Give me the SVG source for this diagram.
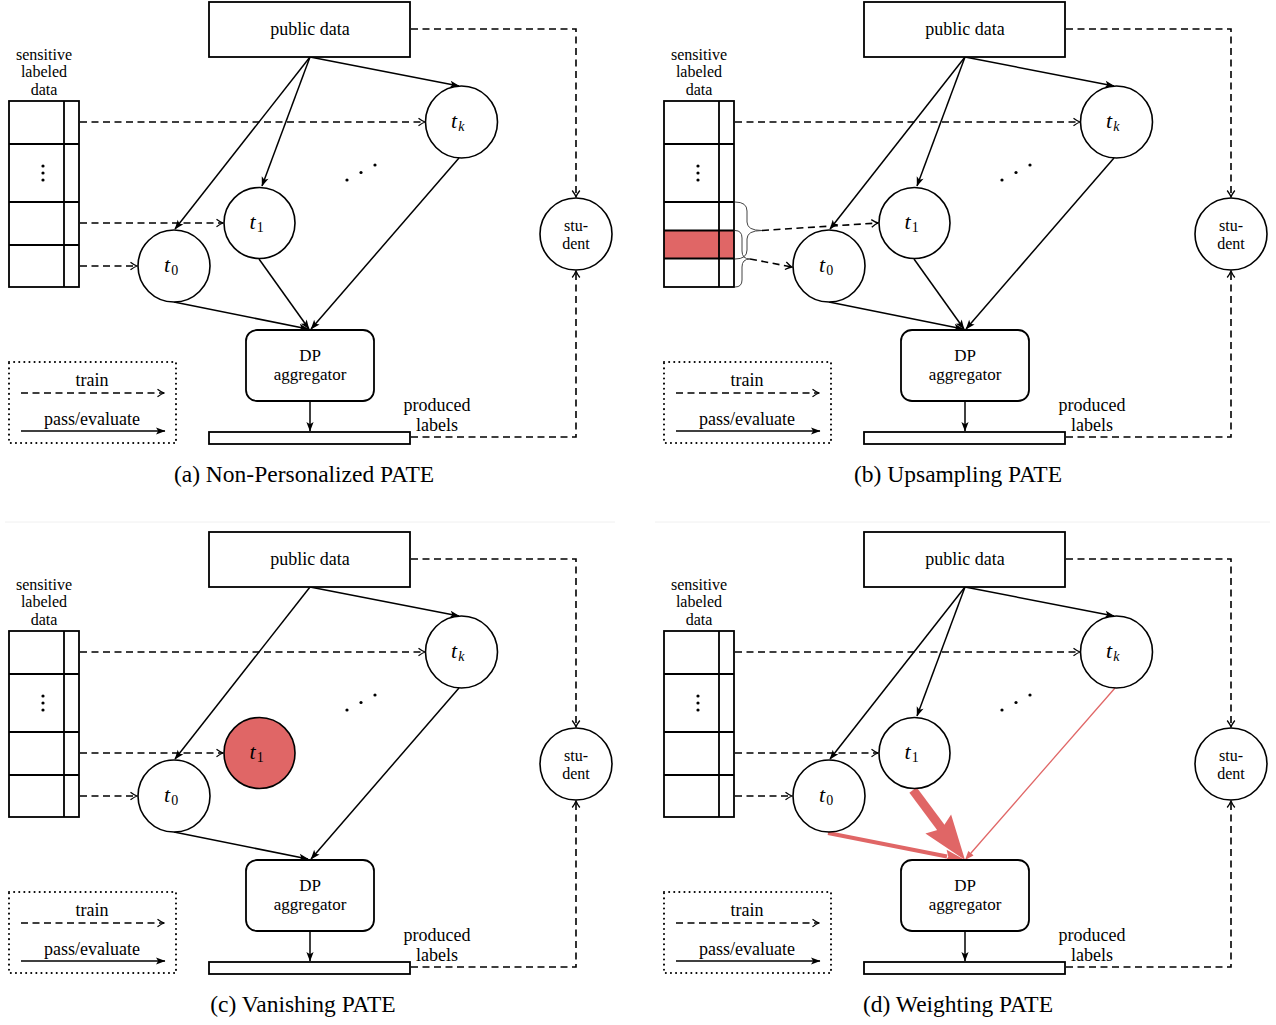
<svg xmlns="http://www.w3.org/2000/svg" width="1276" height="1025" viewBox="0 0 1276 1025">
<style>
text{font-family:"Liberation Serif","Times New Roman",serif;fill:#000}
.lbl{font-size:18px;text-anchor:middle}
.s17{font-size:16px}
.dp{font-size:17px;text-anchor:middle}
.math{font-size:22px;font-style:italic}
.sub{font-size:14px}
.subu{font-size:14px;font-style:normal}
.cap{font-size:23.5px;text-anchor:middle}
.box{fill:#fff;stroke:#000;stroke-width:1.8}
.node{fill:#fff;stroke:#000;stroke-width:1.6}
.red{fill:#e06666}
.grid{fill:none;stroke:#000;stroke-width:1.8}
.solid{fill:none;stroke:#000;stroke-width:1.5;marker-end:url(#ah)}
.dash{fill:none;stroke:#000;stroke-width:1.6;stroke-dasharray:7 4.5}
.darr{marker-end:url(#oh)}
.legend{fill:none;stroke:#000;stroke-width:2;stroke-dasharray:0.1 5;stroke-linecap:round}
.brace{fill:none;stroke:#444;stroke-width:1}
.rline{fill:none;stroke:#e06666}
.rhead{fill:#e06666}
</style>
<defs>
<marker id="ah" viewBox="-10 -5 11 10" refX="0" refY="0" markerWidth="11" markerHeight="10" markerUnits="userSpaceOnUse" orient="auto">
<path d="M0.5,0 L-9,-3.6 L-6.8,0 L-9,3.6 Z" fill="#000" stroke="none"/>
</marker>
<marker id="oh" viewBox="-8 -5 9 10" refX="0" refY="0" markerWidth="9" markerHeight="10" markerUnits="userSpaceOnUse" orient="auto">
<path d="M-6.5,-3.8 Q-2.5,-0.8 0,0 Q-2.5,0.8 -6.5,3.8" fill="none" stroke="#000" stroke-width="1.3" stroke-dasharray="none"/>
</marker>
</defs>
<rect width="1276" height="1025" fill="#fff"/>
<g id="separators">
<line x1="5" y1="522" x2="615" y2="522" stroke="#f0f0f0" stroke-width="1"/>
<line x1="655" y1="522" x2="1270" y2="522" stroke="#f0f0f0" stroke-width="1"/>
</g>

<!-- Panel A -->
<g id="panel-a">
<g id="a-connectors">
<path class="dash darr" d="M80,122 H425"/>
<path class="dash darr" d="M80,223 H223"/>
<path class="dash darr" d="M80,266 H137"/>
<path class="dash darr" d="M411,29 H576 V197"/>
<path class="dash darr" d="M411,437 H576 V271"/>
<path class="solid" d="M310,57 L175,229"/>
<path class="solid" d="M310,57 L262,186"/>
<path class="solid" d="M310,57 L459,86"/>
<path class="solid" d="M174,302 L308,329"/>
<path class="solid" d="M259,259 L309,329"/>
<path class="solid" d="M459,158 L311,329"/>
<path class="solid" d="M310,401 V431"/>
</g>
<g id="a-public-data"><rect class="box" x="209" y="2" width="201" height="55"/><text class="lbl" x="310" y="35">public data</text></g>
<g id="a-sensitive-data">
<text class="lbl s17" x="44" y="59.5">sensitive</text><text class="lbl s17" x="44" y="77.3">labeled</text><text class="lbl s17" x="44" y="95">data</text>
<rect class="box" x="9" y="101" width="70" height="186"/>
<path class="grid" d="M64,101V287M9,144H79M9,202H79M9,245H79"/>
<circle cx="43" cy="166" r="1.6"/><circle cx="43" cy="173" r="1.6"/><circle cx="43" cy="180" r="1.6"/>
</g>
<g id="a-t0"><circle class="node" cx="174" cy="266" r="36"/><text class="math" x="164" y="272">t<tspan class="subu" dx="1" dy="3">0</tspan></text></g>
<g id="a-t1"><circle class="node" cx="259.5" cy="223" r="35.5"/><text class="math" x="249.5" y="229">t<tspan class="subu" dx="1" dy="3">1</tspan></text></g>
<g id="a-tk"><circle class="node" cx="461.5" cy="122" r="36"/><text class="math" x="451" y="128">t<tspan class="sub" dx="1" dy="3">k</tspan></text></g>
<g id="a-dots"><circle cx="347" cy="180" r="1.6"/><circle cx="361" cy="172.5" r="1.6"/><circle cx="375" cy="165" r="1.6"/></g>
<g id="a-student"><circle class="node" cx="576" cy="234" r="36"/><text class="lbl s17" x="576" y="231">stu-</text><text class="lbl s17" x="576" y="249">dent</text></g>
<g id="a-dp-aggregator"><rect class="box" x="246" y="330" width="128" height="71" rx="11"/><text class="dp" x="310" y="360.5">DP</text><text class="dp" x="310" y="379.5">aggregator</text></g>
<g id="a-produced-labels"><rect class="box" x="209" y="432" width="201" height="12"/><text class="lbl" x="437" y="410.5">produced</text><text class="lbl" x="437" y="431">labels</text></g>
<g id="a-legend">
<rect class="legend" x="9" y="362" width="167" height="81"/>
<text class="lbl" x="92" y="386">train</text>
<path class="dash darr" d="M21,393 H164"/>
<text class="lbl" x="92" y="425">pass/evaluate</text>
<path class="solid" d="M21,431 H165"/>
</g>
<text id="a-caption" class="cap" x="304" y="482">(a) Non-Personalized PATE</text>
</g>

<!-- Panel B -->
<g id="panel-b" transform="translate(655,0)">
<g id="b-connectors">
<path class="dash darr" d="M80,122 H425"/>
<path class="dash darr" d="M107,230.5 L223,223"/>
<path class="dash darr" d="M95,259 L137,267"/>
<path class="dash darr" d="M411,29 H576 V197"/>
<path class="dash darr" d="M411,437 H576 V271"/>
<path class="solid" d="M310,57 L175,229"/>
<path class="solid" d="M310,57 L262,186"/>
<path class="solid" d="M310,57 L459,86"/>
<path class="solid" d="M174,302 L308,329"/>
<path class="solid" d="M259,259 L309,329"/>
<path class="solid" d="M459,158 L311,329"/>
<path class="solid" d="M310,401 V431"/>
<path class="brace" d="M80,202 Q92,202 92,211 L92,222 Q92,230.5 107,230.5 Q92,230.5 92,239 L92,250 Q92,259 80,259"/>
<path class="brace" d="M80,230.5 Q87,230.5 87,238 L87,251 Q87,259 95,259 Q87,259 87,267 L87,280 Q87,287 80,287"/>
</g>
<g id="b-public-data"><rect class="box" x="209" y="2" width="201" height="55"/><text class="lbl" x="310" y="35">public data</text></g>
<g id="b-sensitive-data">
<text class="lbl s17" x="44" y="59.5">sensitive</text><text class="lbl s17" x="44" y="77.3">labeled</text><text class="lbl s17" x="44" y="95">data</text>
<rect class="red" x="9" y="230.5" width="70" height="28"/>
<rect class="grid" x="9" y="101" width="70" height="186"/>
<path class="grid" d="M64,101V287M9,144H79M9,202H79M9,230.5H79M9,258.5H79"/>
<circle cx="43" cy="166" r="1.6"/><circle cx="43" cy="173" r="1.6"/><circle cx="43" cy="180" r="1.6"/>
</g>
<g id="b-t0"><circle class="node" cx="174" cy="266" r="36"/><text class="math" x="164" y="272">t<tspan class="subu" dx="1" dy="3">0</tspan></text></g>
<g id="b-t1"><circle class="node" cx="259.5" cy="223" r="35.5"/><text class="math" x="249.5" y="229">t<tspan class="subu" dx="1" dy="3">1</tspan></text></g>
<g id="b-tk"><circle class="node" cx="461.5" cy="122" r="36"/><text class="math" x="451" y="128">t<tspan class="sub" dx="1" dy="3">k</tspan></text></g>
<g id="b-dots"><circle cx="347" cy="180" r="1.6"/><circle cx="361" cy="172.5" r="1.6"/><circle cx="375" cy="165" r="1.6"/></g>
<g id="b-student"><circle class="node" cx="576" cy="234" r="36"/><text class="lbl s17" x="576" y="231">stu-</text><text class="lbl s17" x="576" y="249">dent</text></g>
<g id="b-dp-aggregator"><rect class="box" x="246" y="330" width="128" height="71" rx="11"/><text class="dp" x="310" y="360.5">DP</text><text class="dp" x="310" y="379.5">aggregator</text></g>
<g id="b-produced-labels"><rect class="box" x="209" y="432" width="201" height="12"/><text class="lbl" x="437" y="410.5">produced</text><text class="lbl" x="437" y="431">labels</text></g>
<g id="b-legend">
<rect class="legend" x="9" y="362" width="167" height="81"/>
<text class="lbl" x="92" y="386">train</text>
<path class="dash darr" d="M21,393 H164"/>
<text class="lbl" x="92" y="425">pass/evaluate</text>
<path class="solid" d="M21,431 H165"/>
</g>
<text id="b-caption" class="cap" x="303" y="482">(b) Upsampling PATE</text>
</g>

<!-- Panel C -->
<g id="panel-c" transform="translate(0,530)">
<g id="c-connectors">
<path class="dash darr" d="M80,122 H425"/>
<path class="dash darr" d="M80,223 H223"/>
<path class="dash darr" d="M80,266 H137"/>
<path class="dash darr" d="M411,29 H576 V197"/>
<path class="dash darr" d="M411,437 H576 V271"/>
<path class="solid" d="M310,57 L175,229"/>
<path class="solid" d="M310,57 L459,86"/>
<path class="solid" d="M174,302 L308,329"/>
<path class="solid" d="M459,158 L311,329"/>
<path class="solid" d="M310,401 V431"/>
</g>
<g id="c-public-data"><rect class="box" x="209" y="2" width="201" height="55"/><text class="lbl" x="310" y="35">public data</text></g>
<g id="c-sensitive-data">
<text class="lbl s17" x="44" y="59.5">sensitive</text><text class="lbl s17" x="44" y="77.3">labeled</text><text class="lbl s17" x="44" y="95">data</text>
<rect class="box" x="9" y="101" width="70" height="186"/>
<path class="grid" d="M64,101V287M9,144H79M9,202H79M9,245H79"/>
<circle cx="43" cy="166" r="1.6"/><circle cx="43" cy="173" r="1.6"/><circle cx="43" cy="180" r="1.6"/>
</g>
<g id="c-t0"><circle class="node" cx="174" cy="266" r="36"/><text class="math" x="164" y="272">t<tspan class="subu" dx="1" dy="3">0</tspan></text></g>
<g id="c-t1"><circle class="node" cx="259.5" cy="223" r="35.5" style="fill:#e06666"/><text class="math" x="249.5" y="229">t<tspan class="subu" dx="1" dy="3">1</tspan></text></g>
<g id="c-tk"><circle class="node" cx="461.5" cy="122" r="36"/><text class="math" x="451" y="128">t<tspan class="sub" dx="1" dy="3">k</tspan></text></g>
<g id="c-dots"><circle cx="347" cy="180" r="1.6"/><circle cx="361" cy="172.5" r="1.6"/><circle cx="375" cy="165" r="1.6"/></g>
<g id="c-student"><circle class="node" cx="576" cy="234" r="36"/><text class="lbl s17" x="576" y="231">stu-</text><text class="lbl s17" x="576" y="249">dent</text></g>
<g id="c-dp-aggregator"><rect class="box" x="246" y="330" width="128" height="71" rx="11"/><text class="dp" x="310" y="360.5">DP</text><text class="dp" x="310" y="379.5">aggregator</text></g>
<g id="c-produced-labels"><rect class="box" x="209" y="432" width="201" height="12"/><text class="lbl" x="437" y="410.5">produced</text><text class="lbl" x="437" y="431">labels</text></g>
<g id="c-legend">
<rect class="legend" x="9" y="362" width="167" height="81"/>
<text class="lbl" x="92" y="386">train</text>
<path class="dash darr" d="M21,393 H164"/>
<text class="lbl" x="92" y="425">pass/evaluate</text>
<path class="solid" d="M21,431 H165"/>
</g>
<text id="c-caption" class="cap" x="303" y="482">(c) Vanishing PATE</text>
</g>

<!-- Panel D -->
<g id="panel-d" transform="translate(655,530)">
<g id="d-connectors">
<path class="dash darr" d="M80,122 H425"/>
<path class="dash darr" d="M80,223 H223"/>
<path class="dash darr" d="M80,266 H137"/>
<path class="dash darr" d="M411,29 H576 V197"/>
<path class="dash darr" d="M411,437 H576 V271"/>
<path class="solid" d="M310,57 L175,229"/>
<path class="solid" d="M310,57 L262,186"/>
<path class="solid" d="M310,57 L459,86"/>
<path class="solid" d="M310,401 V431"/>
<path class="rline" stroke-width="4" d="M173,303 L292,326.5"/>
<polygon class="rhead" points="310,330 289.1,332.5 293.3,326.7 291.6,319.7"/>
<path class="rline" stroke-width="9" d="M258,260 L287,299"/>
<polygon class="rhead" points="310,330 270.4,303.4 286.8,298.7 296.1,284.4"/>
<path class="rline" stroke-width="1.3" d="M460,158 L316,323"/>
<polygon class="rhead" points="310,330 313.3,320.9 316.5,323.5 318.5,325.5"/>
</g>
<g id="d-public-data"><rect class="box" x="209" y="2" width="201" height="55"/><text class="lbl" x="310" y="35">public data</text></g>
<g id="d-sensitive-data">
<text class="lbl s17" x="44" y="59.5">sensitive</text><text class="lbl s17" x="44" y="77.3">labeled</text><text class="lbl s17" x="44" y="95">data</text>
<rect class="box" x="9" y="101" width="70" height="186"/>
<path class="grid" d="M64,101V287M9,144H79M9,202H79M9,245H79"/>
<circle cx="43" cy="166" r="1.6"/><circle cx="43" cy="173" r="1.6"/><circle cx="43" cy="180" r="1.6"/>
</g>
<g id="d-t0"><circle class="node" cx="174" cy="266" r="36"/><text class="math" x="164" y="272">t<tspan class="subu" dx="1" dy="3">0</tspan></text></g>
<g id="d-t1"><circle class="node" cx="259.5" cy="223" r="35.5"/><text class="math" x="249.5" y="229">t<tspan class="subu" dx="1" dy="3">1</tspan></text></g>
<g id="d-tk"><circle class="node" cx="461.5" cy="122" r="36"/><text class="math" x="451" y="128">t<tspan class="sub" dx="1" dy="3">k</tspan></text></g>
<g id="d-dots"><circle cx="347" cy="180" r="1.6"/><circle cx="361" cy="172.5" r="1.6"/><circle cx="375" cy="165" r="1.6"/></g>
<g id="d-student"><circle class="node" cx="576" cy="234" r="36"/><text class="lbl s17" x="576" y="231">stu-</text><text class="lbl s17" x="576" y="249">dent</text></g>
<g id="d-dp-aggregator"><rect class="box" x="246" y="330" width="128" height="71" rx="11"/><text class="dp" x="310" y="360.5">DP</text><text class="dp" x="310" y="379.5">aggregator</text></g>
<g id="d-produced-labels"><rect class="box" x="209" y="432" width="201" height="12"/><text class="lbl" x="437" y="410.5">produced</text><text class="lbl" x="437" y="431">labels</text></g>
<g id="d-legend">
<rect class="legend" x="9" y="362" width="167" height="81"/>
<text class="lbl" x="92" y="386">train</text>
<path class="dash darr" d="M21,393 H164"/>
<text class="lbl" x="92" y="425">pass/evaluate</text>
<path class="solid" d="M21,431 H165"/>
</g>
<text id="d-caption" class="cap" x="303" y="482">(d) Weighting PATE</text>
</g>
</svg>
